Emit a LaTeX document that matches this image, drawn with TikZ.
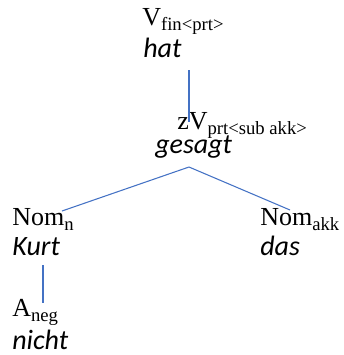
\documentclass[tikz,border=0pt]{standalone}
\usepackage{fontspec}
\setmainfont{Liberation Serif}
\newfontfamily\wordfont{Carlito}
\usetikzlibrary{calc}

\definecolor{linkblue}{RGB}{68,114,196}

\tikzset{
  cat/.style={anchor=base west, inner sep=0pt, font=\fontsize{19.5}{21}\selectfont},
  word/.style={anchor=base west, inner sep=0pt, font=\fontsize{21}{23}\selectfont\wordfont\itshape},
  link/.style={draw=linkblue, line width=0.8pt}
}

\newcommand{\sub}[1]{\raisebox{-0.22em}{\fontsize{14}{14}\selectfont #1}}

\begin{document}
\begin{tikzpicture}[x=0.75pt, y=-0.75pt]

% Frame of the picture
\useasboundingbox (0,0) rectangle (344,355);

% Finite verb
\node[cat] (vfin) at (142,25) {V\sub{fin<prt>}};
\node[word] (hat) at (143,57) {hat};

% Participle
\node[cat] (zvprt) at (177,129) {zV\sub{prt<sub akk>}};
\node[word] (gesagt) at (155,153) {gesagt};

% Nominal complements
\node[cat] (nomn) at (12,225) {Nom\sub{n}};
\node[word] (kurt) at (12,255) {Kurt};
\node[cat] (nomakk) at (260,225) {Nom\sub{akk}};
\node[word] (das) at (260,255) {das};

% Negation
\node[cat] (aneg) at (12,316) {A\sub{neg}};
\node[word] (nicht) at (12,349) {nicht};

% Connectors
\draw[link] ($(hat.base west)+(46,13)$) -- ($(zvprt.base west)+(12,-7)$);
\draw[link] ($(gesagt.base west)+(34,14)$) -- ($(nomn.base west)+(50,-14)$);
\draw[link] ($(gesagt.base west)+(34,14)$) -- ($(nomakk.base west)+(30,-15)$);
\draw[link] ($(kurt.base west)+(31,10)$) -- ($(aneg.base west)+(31,-13)$);

\end{tikzpicture}
\end{document}
